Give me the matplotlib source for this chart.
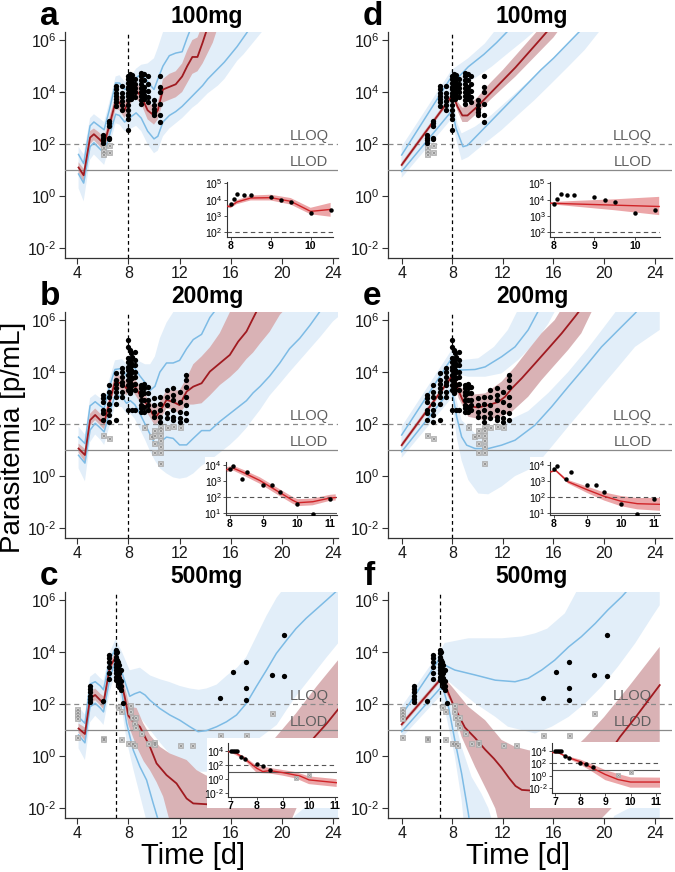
import numpy as np
import matplotlib
matplotlib.use("Agg")
import matplotlib.pyplot as plt
from matplotlib.ticker import NullLocator
import matplotlib.transforms as mtrans

plt.rcParams['font.family'] = ['Liberation Sans', 'DejaVu Sans']
plt.rcParams['mathtext.fontset'] = 'custom'
plt.rcParams['mathtext.rm'] = 'Liberation Sans'
plt.rcParams['mathtext.it'] = 'Liberation Sans:italic'
plt.rcParams['mathtext.bf'] = 'Liberation Sans:bold'

try:
    from matplotlib.mathtext import MathTextParser
    MathTextParser('agg').parse(r'$10^{\text{-}2}$', 100)
    NEG = r'\text{-}'
except Exception:
    NEG = '-'


def pow_label(e):
    s = str(abs(e))
    return r'$10^{%s%s}$' % (NEG if e < 0 else '', s)


# ---------------- data (log10 parasitemia) ----------------
DOSES = ["100mg", "200mg", "500mg"]
LETTERS_LEFT = ["a", "b", "c"]
LETTERS_RIGHT = ["d", "e", "f"]
XTICKS = [4, 8, 12, 16, 20, 24]
YTICK_EXP = [-2, 0, 2, 4, 6]
LLOQ = 100
LLOD = 10

# observations: (time, [log10 values])
OBS_100 = [(6.0, [2.35, 2.25, 2.15, 2.05]), (6.5, [2.9, 2.8, 2.7, 2.25, 2.2]),
           (7.0, [4.25, 4.1, 3.95, 3.85, 3.75, 3.6, 3.45]), (7.5, [4.25, 3.95, 3.8, 3.65, 3.5, 3.3]),
           (8.0, [4.6, 4.5, 4.35, 4.2, 4.1, 3.95, 3.85, 3.7, 3.5, 3.3, 3.1, 2.95, 2.55]),
           (8.1, [4.7, 4.55, 4.4, 4.25, 4.1, 3.9]), (8.2, [4.6, 4.45, 4.3, 4.2, 4.05, 3.9, 3.75]),
           (8.3, [4.65, 4.5, 4.35, 4.2, 4.0, 3.85]), (8.5, [4.5, 4.3, 4.15, 4.0, 3.8]),
           (9.0, [4.75, 4.6, 4.45, 4.3, 4.15, 4.0, 3.85, 3.7, 3.55]),
           (9.25, [4.7, 4.45, 4.2, 4.05, 3.9, 3.75]), (9.5, [4.6, 4.3, 4.05, 3.8, 3.6]),
           (10.0, [3.7, 3.5, 3.35, 3.25, 3.1]), (10.5, [4.6, 4.2, 4.0, 3.55, 3.1, 2.85])]
BLQ_100 = [(6.0, [1.9, 1.75, 1.6]), (6.5, [1.95, 1.7])]

OBS_200 = [(6.0, [3.11, 2.99, 2.86, 2.54, 2.41, 2.15]), (6.5, [3.5, 3.24, 3.05, 2.79, 2.54, 2.35, 2.09]),
           (7.0, [3.95, 3.69, 3.56, 3.37, 3.24, 3.05, 2.79, 2.15]),
           (7.5, [4.14, 4.01, 3.82, 3.63, 3.5, 3.24, 3.05]),
           (8.0, [5.23, 4.97, 4.53, 4.4, 4.21, 4.08, 3.88, 3.69, 3.5, 3.31, 2.54]),
           (8.1, [4.85, 4.46, 4.21, 3.95, 3.69, 3.44, 3.18]), (8.2, [4.72, 4.33, 4.08, 3.82, 3.56, 3.31]),
           (8.3, [4.59, 4.27, 4.01, 3.76, 3.5, 2.54]), (8.5, [4.78, 4.46, 4.27, 4.01, 3.82, 3.56, 3.31, 2.54]),
           (9.0, [3.5, 3.37, 3.24, 3.12, 2.92, 2.73, 2.6, 2.47]), (9.25, [3.56, 3.37, 3.18, 2.92, 2.67, 2.47]),
           (9.5, [3.44, 3.18, 2.92, 2.73, 2.54]), (10.0, [2.99, 2.73, 2.47, 2.28]),
           (10.5, [3.05, 2.79, 2.54, 2.28, 2.09]), (11.0, [3.31, 3.05, 2.73, 2.41, 2.22]),
           (11.5, [3.37, 3.12, 2.92, 2.54, 2.28, 2.15]), (12.0, [3.24, 2.86, 2.47, 2.22, 2.09]),
           (12.5, [3.88, 3.69, 3.44, 3.05, 2.73, 2.41, 2.15])]
BLQ_200 = [(6.0, [1.58]), (6.5, [1.45]), (9.25, [1.9]), (9.75, [1.54]), (10.0, [1.77, 1.58, 1.26, 0.94]),
           (10.5, [1.9, 1.77, 1.58, 1.38, 1.17, 0.94, 0.49]), (11.0, [1.9]), (11.5, [1.93]), (12.0, [1.9])]

OBS_500 = [(5.0, [2.7, 2.57, 2.45, 2.33, 2.2, 2.09]), (6.0, [2.12]), (6.5, [3.88, 3.76, 3.6, 3.44, 3.2, 2.96]),
           (7.0, [4.08, 3.95, 3.82, 3.69, 3.56, 3.44, 3.31, 3.18, 3.05, 2.92]),
           (7.1, [4.0, 3.7, 3.4, 3.2, 3.0]), (7.2, [3.6, 3.35, 3.15, 2.95, 2.8]),
           (7.3, [3.5, 3.2, 3.0, 2.8, 2.65]), (7.4, [3.3, 2.9, 2.7, 2.55]), (7.55, [2.03]),
           (15.2, [2.24]), (16.2, [3.24]), (17.2, [3.63, 2.6, 2.15]), (19.2, [3.12]), (20.2, [4.65, 3.08])]
BLQ_500 = [(4.0, [1.83, 1.7, 1.58, 1.47, 0.72]), (6.0, [0.7, 0.64]), (7.2, [1.9]), (7.4, [1.72, 0.66]),
           (8.0, [0.49]), (8.1, [1.96, 1.72]), (8.25, [1.51, 0.5]), (8.4, [1.28, 0.42]), (8.5, [1.13, 1.5]),
           (9.0, [0.9]), (9.5, [0.5]), (10.0, [0.55, 0.45]), (12.0, [0.42]), (13.0, [0.42]),
           (15.2, [0.8]), (17.2, [0.8]), (19.2, [1.64])]

# ---- panel a (100mg, model 1) ----
A_MED = [(4.1, 1.1), (4.5, 0.8), (5.0, 2.25), (5.3, 2.38), (5.7, 2.2), (6.1, 2.0), (6.5, 2.7), (7.0, 3.65),
         (7.3, 3.6), (7.7, 3.3), (8.2, 3.9), (8.6, 4.05), (9.0, 3.85), (9.5, 3.3), (10.0, 3.1), (10.3, 3.3),
         (10.7, 4.1), (11.2, 4.2), (11.7, 4.3), (12.2, 4.6), (12.6, 5.0), (13.0, 5.35), (13.4, 5.35),
         (13.8, 5.9), (14.2, 6.5)]
A_RLO = [(4.1, 0.9), (4.5, 0.55), (5.0, 2.0), (5.3, 2.15), (5.7, 1.95), (6.1, 1.7), (6.5, 2.4), (7.0, 3.35),
         (7.3, 3.3), (7.7, 3.0), (8.2, 3.6), (8.6, 3.75), (9.0, 3.55), (9.5, 2.95), (10.0, 2.75), (10.3, 2.95),
         (10.7, 3.6), (11.2, 3.7), (11.7, 3.8), (12.2, 4.0), (12.6, 4.35), (13.0, 4.7), (13.4, 4.8),
         (13.8, 5.1), (14.2, 5.5), (14.6, 5.9), (15.0, 6.5)]
A_RHI = [(4.1, 1.3), (4.5, 1.05), (5.0, 2.5), (5.3, 2.6), (5.7, 2.45), (6.1, 2.25), (6.5, 3.0), (7.0, 3.9),
         (7.3, 3.85), (7.7, 3.6), (8.2, 4.2), (8.6, 4.35), (9.0, 4.15), (9.5, 3.6), (10.0, 3.45), (10.3, 3.6),
         (10.7, 4.5), (11.2, 4.7), (11.7, 4.8), (12.2, 5.1), (12.6, 5.6), (13.0, 6.0), (13.4, 6.1), (13.8, 6.6)]
A_UB = [(4.1, 1.6), (4.5, 1.25), (5.0, 2.7), (5.3, 2.85), (5.7, 2.7), (6.1, 2.55), (6.5, 3.3), (7.0, 4.35),
        (7.3, 4.35), (7.7, 4.1), (8.2, 4.2), (8.6, 4.55), (9.0, 4.7), (9.5, 4.4), (10.0, 4.1), (10.3, 4.5),
        (10.7, 5.0), (11.2, 5.4), (11.7, 5.5), (12.2, 5.55), (12.6, 6.1), (13.0, 6.6)]
A_LB = [(4.1, 0.85), (4.5, 0.5), (5.0, 1.9), (5.3, 2.05), (5.7, 1.85), (6.1, 1.65), (6.5, 2.3), (7.0, 3.15),
        (7.3, 3.1), (7.7, 2.85), (8.2, 3.05), (8.6, 3.2), (9.0, 3.0), (9.5, 2.5), (10.0, 2.2), (10.3, 2.3),
        (10.7, 2.85), (11.2, 3.1), (11.7, 3.25), (12.2, 3.45), (12.6, 3.65), (13.0, 3.85), (13.4, 4.05),
        (13.8, 4.25), (14.2, 4.5), (14.6, 4.7), (15.0, 4.9), (15.5, 5.15), (16.0, 5.45), (16.5, 5.75),
        (17.0, 6.1), (17.5, 6.45)]
A_BB_LO = [(4.1, 0.3), (4.5, -0.2), (5.0, 1.4), (5.3, 1.6), (5.7, 1.4), (6.1, 1.2), (6.5, 1.9), (7.0, 2.8),
           (7.3, 2.75), (7.7, 2.5), (8.2, 2.6), (8.6, 2.7), (9.0, 2.5), (9.5, 2.0), (10.0, 1.65), (10.3, 1.75),
           (10.7, 2.3), (11.2, 2.6), (11.7, 2.8), (12.2, 3.0), (12.6, 3.2), (13.0, 3.4), (13.4, 3.55),
           (13.8, 3.75), (14.2, 3.95), (14.6, 4.1), (15.0, 4.25), (15.5, 4.5), (16.0, 4.85), (16.5, 5.2),
           (17.0, 5.45), (17.5, 5.75), (18.0, 6.05), (18.5, 6.35), (19.0, 6.65)]
A_BB_HI = [(4.1, 1.9), (4.5, 1.6), (5.0, 3.0), (5.3, 3.15), (5.7, 3.0), (6.1, 2.85), (6.5, 3.6), (7.0, 4.6),
           (7.3, 4.65), (7.7, 4.4), (8.2, 4.6), (8.6, 4.9), (9.0, 5.05), (9.5, 5.1), (10.0, 5.3), (10.3, 5.7),
           (10.7, 6.3), (11.2, 6.7), (19.5, 7.0)]

# ---- panel b (200mg, model 1) ----
B_MED = [(4.1, 1.06), (4.6, 0.81), (5.0, 2.15), (5.4, 2.35), (5.8, 2.15), (6.1, 2.05), (6.5, 2.8),
         (6.95, 3.63), (7.5, 3.56), (7.85, 3.37), (8.15, 3.69), (8.5, 3.45), (8.9, 3.12), (9.3, 2.85),
         (9.7, 2.55), (10.07, 2.22), (10.46, 2.48), (10.98, 2.93), (11.5, 2.85), (12.0, 2.73), (12.55, 3.25),
         (13.07, 3.44), (13.72, 3.57), (14.37, 4.02), (15.15, 4.34), (15.93, 4.66), (16.58, 5.17),
         (17.23, 5.56), (17.75, 6.07), (18.14, 6.45)]
B_RLO = [(4.1, 0.9), (4.6, 0.55), (5.0, 1.95), (5.4, 2.15), (5.8, 1.95), (6.1, 1.8), (6.5, 2.55), (6.95, 3.4),
         (7.5, 3.3), (7.85, 3.1), (8.15, 3.4), (8.5, 3.15), (8.9, 2.85), (9.3, 2.55), (9.7, 2.25),
         (10.07, 1.95), (10.46, 2.15), (10.98, 2.6), (11.5, 2.55), (12.0, 2.4), (12.55, 2.75), (13.07, 2.75),
         (13.72, 2.8), (14.37, 3.1), (15.15, 3.5), (15.93, 3.8), (16.58, 4.1), (17.23, 4.5), (17.75, 4.75),
         (18.3, 5.1), (19.05, 5.55), (19.84, 6.2), (20.6, 6.6)]
B_RHI = [(4.1, 1.25), (4.6, 1.05), (5.0, 2.4), (5.4, 2.6), (5.8, 2.4), (6.1, 2.3), (6.5, 3.05), (6.95, 3.9),
         (7.5, 3.85), (7.85, 3.65), (8.15, 3.95), (8.5, 3.75), (8.9, 3.45), (9.3, 3.15), (9.7, 2.85),
         (10.07, 2.6), (10.46, 2.85), (10.98, 3.3), (11.5, 3.3), (12.0, 3.3), (12.55, 3.76), (13.07, 4.3),
         (13.72, 4.6), (14.37, 4.95), (15.15, 5.5), (15.93, 6.3), (16.58, 6.9)]
B_UB = [(4.1, 1.5), (4.6, 1.25), (5.0, 2.7), (5.4, 2.86), (5.8, 2.7), (6.1, 2.6), (6.5, 3.4), (6.95, 4.1),
        (7.5, 4.14), (7.85, 3.85), (8.15, 4.3), (8.5, 4.15), (8.9, 3.85), (9.3, 3.6), (9.7, 3.3),
        (10.07, 3.45), (10.46, 4.0), (10.98, 4.35), (11.5, 4.35), (12.0, 4.45), (12.55, 4.9), (13.07, 5.25),
        (13.72, 5.45), (14.37, 6.1), (15.15, 6.6)]
B_UB_LO = [(4.1, 1.2), (4.6, 0.9), (5.0, 2.4), (5.4, 2.55), (5.8, 2.4), (6.1, 2.3), (6.5, 3.0), (6.95, 3.75),
           (7.5, 3.8), (7.85, 3.5), (8.15, 3.9), (8.5, 3.75), (8.9, 3.4), (9.3, 3.1), (9.7, 2.8), (10.07, 2.5),
           (10.46, 2.7), (10.98, 3.0), (11.5, 3.1), (12.0, 3.1), (12.55, 3.5), (13.07, 4.2), (13.72, 4.5),
           (14.37, 4.8), (15.15, 5.3), (15.93, 6.0), (16.58, 6.6)]
B_UB_HI = [(4.1, 1.9), (4.6, 1.6), (5.0, 3.0), (5.4, 3.15), (5.8, 3.0), (6.1, 2.9), (6.5, 3.7), (6.95, 4.45),
           (7.5, 4.5), (7.85, 4.3), (8.15, 4.7), (8.5, 4.6), (8.9, 4.4), (9.3, 4.3), (9.7, 4.3), (10.07, 4.6),
           (10.46, 5.3), (10.98, 5.9), (11.5, 6.3), (12.0, 6.6)]
B_LB = [(4.1, 0.8), (4.6, 0.5), (5.0, 1.77), (5.4, 2.03), (5.8, 1.85), (6.1, 1.7), (6.5, 2.4), (6.95, 3.1),
        (7.5, 3.05), (7.85, 2.8), (8.15, 2.9), (8.5, 2.75), (8.9, 2.4), (9.3, 2.0), (9.7, 1.6), (10.07, 1.25),
        (10.46, 1.3), (10.98, 1.5), (11.5, 1.45), (12.0, 1.2), (12.55, 1.2), (13.07, 1.45), (13.72, 1.75),
        (14.37, 1.75), (15.15, 2.1), (15.93, 2.4), (16.58, 2.65), (17.23, 2.9), (17.75, 3.2), (18.3, 3.45),
        (19.05, 3.85), (19.84, 4.35), (20.6, 4.9), (21.4, 5.3), (22.2, 5.8), (23.0, 6.35), (23.6, 6.7)]
B_LB_LO = [(4.1, 0.3), (4.6, -0.2), (5.0, 1.3), (5.4, 1.6), (5.8, 1.4), (6.1, 1.2), (6.5, 1.9), (6.95, 2.7),
           (7.5, 2.65), (7.85, 2.4), (8.15, 2.4), (8.5, 2.2), (8.9, 1.8), (9.3, 1.4), (9.7, 0.95), (10.07, 0.6),
           (10.46, 0.3), (10.98, 0.1), (11.5, -0.05), (12.0, -0.1), (12.55, -0.05), (13.07, 0.1), (13.72, 0.4),
           (14.37, 0.6), (15.15, 0.9), (15.93, 1.2), (16.58, 1.5), (17.23, 1.85), (17.75, 2.2), (18.3, 2.55),
           (19.05, 3.1), (19.84, 3.55), (20.6, 4.0), (21.4, 4.45), (22.2, 4.9), (23.0, 5.35), (24.0, 5.95),
           (24.6, 6.2)]
B_LB_HI = [(4.1, 1.4), (4.6, 1.1), (5.0, 2.3), (5.4, 2.5), (5.8, 2.3), (6.1, 2.2), (6.5, 2.9), (6.95, 3.6),
           (7.5, 3.6), (7.85, 3.3), (8.15, 3.5), (8.5, 3.3), (8.9, 3.0), (9.3, 2.6), (9.7, 2.3), (10.07, 2.0),
           (10.46, 2.2), (10.98, 2.5), (11.5, 2.6), (12.0, 2.6), (12.55, 2.8), (13.07, 3.0), (13.72, 3.2),
           (14.37, 3.4), (15.15, 3.6), (15.93, 4.0), (16.58, 4.4), (17.23, 4.9), (17.75, 5.3), (18.3, 5.8),
           (19.05, 6.4), (19.84, 7.0), (24.6, 7.0)]

# ---- panel c (500mg, model 1) ----
C_MED = [(4.1, 1.06), (4.6, 0.85), (5.0, 2.22), (5.4, 2.35), (5.8, 2.15), (6.05, 2.03), (6.55, 3.44),
         (7.0, 3.8), (7.3, 3.3), (7.5, 2.7), (7.7, 2.3), (8.0, 1.55), (8.4, 1.3), (8.9, 1.13), (9.16, 0.87),
         (9.68, 0.36), (10.2, -0.28), (10.98, -0.73), (11.76, -1.05), (12.55, -1.63), (13.07, -1.82),
         (14.1, -1.85), (14.9, -1.95), (16.0, -1.9), (17.0, -1.7), (18.0, -1.35), (19.0, -0.9), (20.0, -0.4),
         (21.0, 0.05), (22.0, 0.4), (22.57, 0.74), (23.5, 1.25), (24.4, 1.8)]
C_RLO = [(4.1, 0.9), (4.6, 0.6), (5.0, 2.0), (5.4, 2.15), (5.8, 1.95), (6.05, 1.8), (6.55, 3.2), (7.0, 3.6),
         (7.3, 3.0), (7.6, 2.2), (8.0, 1.2), (8.64, 0.36), (9.2, -0.2), (9.68, -0.54), (10.2, -1.0),
         (10.72, -1.56), (11.2, -2.45), (11.6, -3.2), (20.0, -3.2), (20.8, -2.4), (21.5, -1.6), (22.5, -0.8),
         (24.5, 0.2)]
C_RHI = [(4.1, 1.25), (4.6, 1.1), (5.0, 2.45), (5.4, 2.6), (5.8, 2.4), (6.05, 2.3), (6.55, 3.65), (7.0, 4.0),
         (7.3, 3.6), (7.6, 2.9), (8.1, 1.9), (8.64, 1.85), (9.16, 1.26), (9.7, 0.8), (10.46, 0.36),
         (11.24, 0.1), (12.55, -0.15), (13.33, -0.54), (14.1, -0.75), (15.0, -0.7), (16.5, -0.5),
         (18.0, 0.0), (19.3, 0.6), (21.1, 1.64), (22.7, 2.67), (24.5, 3.75)]
C_UB = [(4.1, 1.51), (4.6, 1.26), (5.0, 2.77), (5.4, 2.86), (5.8, 2.7), (6.05, 2.55), (6.55, 3.7), (7.0, 4.15),
        (7.3, 3.5), (7.6, 3.05), (8.1, 2.3), (8.5, 2.4), (8.9, 2.47), (9.3, 2.35), (9.68, 2.15),
        (10.46, 1.83), (11.24, 1.58), (12.02, 1.38), (12.8, 1.13), (13.45, 0.94), (14.1, 0.98), (14.9, 1.13),
        (15.67, 1.32), (16.45, 1.58), (17.23, 2.03), (18.0, 2.67), (18.8, 3.31), (19.57, 3.95),
        (20.36, 4.45), (21.1, 4.9), (21.9, 5.3), (22.7, 5.65), (23.5, 6.0), (24.4, 6.4)]
C_UB_LO = [(4.1, 1.2), (4.6, 0.9), (5.0, 2.45), (5.4, 2.55), (5.8, 2.4), (6.05, 2.25), (6.55, 3.3), (7.0, 3.6),
           (7.5, 2.5), (8.1, 1.6), (8.9, 1.5), (9.7, 1.0), (10.5, 0.5), (11.2, 0.1), (12.0, -0.2),
           (12.8, -0.45), (13.5, -0.6), (14.1, -0.6), (14.9, -0.5), (15.7, -0.3), (16.5, 0.0), (17.2, 0.3),
           (18.0, 0.6), (18.8, 0.9), (19.6, 1.2), (20.4, 1.8), (21.1, 2.3), (21.9, 2.8), (22.7, 3.3),
           (23.5, 3.8), (24.5, 4.4)]
C_UB_HI = [(4.1, 1.9), (4.6, 1.6), (5.0, 3.05), (5.4, 3.2), (5.8, 3.0), (6.05, 2.9), (6.55, 4.0), (7.0, 4.5),
           (7.5, 4.0), (8.1, 3.3), (8.9, 3.4), (9.7, 3.1), (10.5, 2.95), (11.2, 2.85), (12.0, 2.7),
           (12.8, 2.6), (13.5, 2.55), (14.1, 2.6), (14.9, 2.75), (15.7, 3.1), (16.5, 3.4), (17.2, 3.8),
           (18.0, 4.6), (18.8, 5.4), (19.6, 6.1), (20.4, 6.6), (24.5, 7.0)]
C_LB = [(4.1, 0.81), (4.6, 0.51), (5.0, 1.9), (5.4, 2.03), (5.8, 1.85), (6.05, 1.7), (6.55, 3.0), (7.0, 3.7),
        (7.34, 2.92), (7.86, 1.26), (8.38, 0.23), (8.9, -0.41), (9.42, -0.92), (9.94, -1.82), (10.33, -2.46),
        (10.6, -3.0)]
C_LB_LO = [(4.1, 0.3), (4.6, -0.15), (5.0, 1.3), (5.4, 1.55), (5.8, 1.35), (6.05, 1.2), (6.55, 2.5), (7.0, 3.2),
           (7.34, 2.3), (7.86, 0.6), (8.38, -0.5), (8.9, -1.5), (9.42, -2.5), (9.8, -3.0)]
C_LB_HI = [(4.1, 1.4), (4.6, 1.1), (5.0, 2.4), (5.4, 2.55), (5.8, 2.35), (6.05, 2.2), (6.55, 3.4), (7.0, 4.0),
           (7.34, 3.5), (7.86, 2.2), (8.38, 1.3), (8.9, 0.6), (9.42, 0.0), (9.94, -0.6), (10.33, -1.0),
           (10.98, -1.7), (11.76, -2.45), (12.2, -3.0)]
C_LB2_LO = [(20.5, -3.0), (24.5, -3.0)]
C_LB2_HI = [(20.5, -3.0), (21.0, -2.3), (22.0, -1.9), (24.5, -1.4)]

# ---- panel d (100mg, model 2) ----
D_MED = [(4.0, 1.2), (8.05, 3.9), (8.4, 3.45), (8.8, 3.1), (9.2, 3.1), (10.0, 3.45), (11.0, 3.95), (12.0, 4.45),
         (13.0, 4.95), (14.0, 5.5), (15.0, 6.05), (15.8, 6.5)]
D_RLO = [(4.0, 1.1), (8.05, 3.8), (8.4, 3.3), (8.8, 2.85), (9.2, 2.85), (10.0, 3.2), (11.0, 3.7), (12.0, 4.15),
         (13.0, 4.6), (14.0, 5.1), (15.0, 5.6), (16.0, 6.1), (16.6, 6.5)]
D_RHI = [(4.0, 1.3), (8.05, 4.0), (8.4, 3.65), (8.8, 3.4), (9.2, 3.45), (10.0, 3.8), (11.0, 4.35), (12.0, 4.85),
         (13.0, 5.4), (14.0, 5.95), (15.0, 6.5)]
D_UB = [(4.0, 1.58), (7.95, 4.6), (8.25, 4.45), (9.26, 4.97), (10.5, 5.45), (11.5, 5.9), (12.5, 6.4)]
D_UB_LO = [(4.0, 1.0), (7.95, 3.6), (8.74, 4.25), (9.79, 4.53), (11.1, 4.97), (12.4, 5.49), (13.7, 6.0),
           (14.9, 6.5)]
D_UB_HI = [(4.0, 1.9), (7.95, 4.85), (9.26, 5.3), (10.58, 5.87), (11.6, 6.5)]
D_LB = [(4.0, 0.95), (8.0, 3.3), (8.3, 2.6), (8.85, 1.9), (9.2, 1.95), (10.0, 2.35), (11.0, 2.85), (12.0, 3.35),
        (13.0, 3.85), (14.0, 4.35), (15.0, 4.85), (16.0, 5.3), (17.0, 5.8), (18.0, 6.3), (18.5, 6.55)]
D_LB_LO = [(4.0, 0.7), (8.0, 3.0), (8.3, 2.2), (8.74, 1.38), (9.26, 1.5), (10.58, 2.03), (11.9, 2.54),
           (13.2, 3.12), (14.5, 3.69), (15.84, 4.33), (17.16, 4.97), (18.47, 5.62), (19.9, 6.5)]
D_LB_HI = [(4.0, 1.5), (8.0, 4.0), (8.4, 2.8), (8.74, 2.41), (9.79, 2.67), (11.1, 3.12), (12.4, 3.69),
           (13.7, 4.27), (15.05, 4.85), (16.37, 5.49), (17.7, 6.13), (18.5, 6.5)]

# ---- panel e (200mg, model 2) ----
E_MED = [(4.0, 1.19), (7.95, 3.82), (8.08, 3.88), (8.48, 3.31), (8.87, 2.86), (9.27, 2.69), (10.06, 2.64),
         (10.85, 2.73), (11.64, 2.85), (12.17, 3.05), (12.7, 3.37), (13.49, 3.76), (14.54, 4.33),
         (15.6, 4.91), (16.65, 5.49), (17.7, 6.13), (18.2, 6.45)]
E_RLO = [(4.0, 1.09), (7.95, 3.72), (8.1, 3.75), (8.5, 3.0), (9.27, 2.28), (10.6, 2.15), (11.9, 2.3),
         (12.7, 2.47), (14.0, 3.05), (15.05, 3.69), (16.1, 4.27), (17.16, 4.85), (18.2, 5.49), (19.1, 6.4)]
E_RHI = [(4.0, 1.29), (7.95, 3.92), (8.1, 3.98), (8.5, 3.5), (9.27, 3.12), (10.6, 3.18), (11.9, 3.63),
         (12.96, 4.2), (14.0, 4.85), (15.05, 5.49), (16.1, 6.0), (16.6, 6.4)]
E_UB = [(4.0, 1.58), (7.95, 4.53), (8.35, 4.1), (8.74, 4.08), (9.8, 4.1), (10.6, 4.2), (11.9, 4.59),
        (12.96, 4.97), (14.0, 5.62), (14.8, 6.35)]
E_UB_LO = [(4.0, 1.0), (7.95, 3.7), (8.2, 3.95), (9.27, 3.82), (10.6, 3.82), (11.9, 3.95), (13.2, 4.46),
           (14.5, 5.1), (15.6, 5.87), (16.3, 6.5)]
E_UB_HI = [(4.0, 1.9), (7.95, 4.85), (8.74, 4.46), (10.06, 4.53), (11.3, 4.97), (12.4, 5.62), (13.3, 6.5)]
E_LB = [(4.0, 0.94), (7.95, 3.37), (8.35, 2.28), (8.74, 1.51), (9.14, 1.19), (9.8, 1.06), (10.85, 1.06),
        (11.9, 1.19), (12.96, 1.38), (14.54, 1.96), (15.86, 2.67), (17.17, 3.44), (18.5, 4.2), (19.8, 4.97),
        (21.13, 5.62), (22.45, 6.26), (22.8, 6.45)]
E_LB_LO = [(4.0, 0.7), (7.95, 3.0), (8.35, 1.5), (8.74, 0.6), (9.27, -0.15), (10.06, -0.67), (10.85, -0.7),
           (11.9, -0.4), (12.96, 0.0), (14.54, 0.36), (15.86, 1.13), (17.16, 1.9), (18.5, 2.67), (19.8, 3.44),
           (21.13, 4.2), (22.45, 4.97), (24.4, 5.62)]
E_LB_HI = [(4.0, 1.5), (7.95, 3.9), (8.35, 2.9), (8.74, 2.15), (9.8, 1.64), (11.4, 1.77), (12.7, 2.2),
           (14.0, 2.5), (15.6, 3.2), (17.16, 4.0), (18.7, 4.9), (19.8, 5.6), (21.2, 6.5), (24.4, 7.0)]

# ---- panel f (500mg, model 2) ----
F_MED = [(4.0, 1.22), (7.1, 2.97), (7.5, 2.65), (8.1, 1.95), (9.0, 1.1), (9.8, 0.7), (10.6, 0.25),
         (11.3, -0.1), (11.9, -0.45), (12.5, -0.85), (13.0, -1.15), (13.5, -1.3), (14.1, -1.32), (15.0, -1.4),
         (17.0, -1.2), (19.0, -0.6), (20.5, 0.2), (21.26, 0.74), (22.5, 1.5), (24.4, 2.73)]
F_RLO = [(4.0, 1.12), (7.1, 2.87), (7.5, 2.45), (7.95, 2.0), (8.74, 0.74), (9.8, -0.41), (10.85, -1.44),
         (11.4, -2.01), (11.9, -3.0), (19.0, -3.0), (19.8, -2.4), (21.0, -1.8), (24.4, -0.3)]
F_RHI = [(4.0, 1.32), (7.1, 3.07), (7.4, 3.0), (8.2, 2.54), (9.27, 1.9), (10.6, 1.38), (11.9, 0.62),
         (12.96, 0.36), (14.0, 0.23), (15.5, 0.1), (17.0, 0.0), (18.5, 0.7), (20.0, 1.5), (22.0, 2.7),
         (24.4, 4.2)]
F_UB = [(4.0, 1.58), (7.0, 3.75), (7.4, 3.5), (8.2, 3.31), (9.8, 3.12), (11.4, 2.92), (12.96, 2.86),
        (14.0, 2.99), (15.07, 3.31), (16.1, 3.69), (17.2, 4.2), (18.2, 4.59), (19.3, 5.1), (20.3, 5.62),
        (21.4, 6.13), (21.9, 6.4)]
F_UB_LO = [(4.0, 1.0), (7.0, 3.2), (7.4, 3.0), (8.2, 2.67), (9.8, 2.03), (11.4, 1.51), (12.4, 1.13),
           (13.5, 1.0), (14.54, 0.87), (15.86, 1.13), (17.2, 1.51), (18.5, 2.03), (19.8, 2.67), (21.1, 3.44),
           (22.45, 4.33), (23.8, 5.36), (24.4, 5.8)]
F_UB_HI = [(4.0, 1.9), (7.0, 4.0), (7.4, 4.35), (9.27, 4.53), (11.9, 4.53), (13.5, 4.6), (14.54, 4.72),
           (15.5, 4.9), (16.9, 5.49), (17.9, 6.4), (24.4, 7.0)]
F_LB = [(4.0, 0.94), (7.03, 2.6), (7.3, 2.55), (7.7, 1.9), (8.2, 0.62), (8.74, -0.67), (9.27, -2.2),
        (9.5, -3.0)]
F_LB_LO = [(4.0, 0.7), (7.03, 2.3), (7.5, 1.6), (8.2, 0.0), (8.74, -1.7), (9.0, -3.0)]
F_LB_HI = [(4.0, 1.5), (7.03, 3.1), (7.4, 3.0), (8.2, 1.38), (8.74, 0.36), (9.53, -0.8), (10.3, -1.44),
           (10.85, -2.0), (11.1, -2.4), (11.4, -3.0)]
F_LB2_LO = [(20.3, -3.0), (24.4, -3.0)]
F_LB2_HI = [(20.3, -3.0), (20.8, -2.3), (22.0, -2.0), (24.4, -1.5)]

# ---- insets ----
INS_100 = [(8.0, 3.75), (8.08, 4.05), (8.17, 4.33), (8.33, 4.3), (8.5, 4.3), (9.0, 4.15), (9.25, 3.95),
           (9.5, 3.85), (10.0, 3.2), (10.5, 3.35)]
INS_200 = [(8.0, 3.76), (8.08, 3.96), (8.35, 3.15), (8.5, 3.58), (9.0, 2.78), (9.25, 2.75), (9.5, 2.35),
           (10.0, 1.6), (10.5, 0.95), (11.0, 1.9)]
INS_500 = [(7.0, 3.95), (7.08, 3.95), (7.17, 3.95), (7.25, 3.95), (7.4, 3.1), (7.55, 2.85), (8.0, 2.1),
           (8.25, 1.9), (8.5, 1.35)]
INS_500_BLQ = [(9.5, 0.1), (10.0, 0.6)]

IA_MED = [(7.9, 3.6), (8.0, 3.58), (8.15, 3.85), (8.5, 4.1), (9.0, 4.12), (9.5, 3.9), (10.0, 3.28), (10.5, 3.4)]
IA_LO = [(7.9, 3.5), (8.0, 3.48), (8.15, 3.72), (8.5, 3.95), (9.0, 3.95), (9.5, 3.7), (10.0, 3.1), (10.5, 2.95)]
IA_HI = [(7.9, 3.7), (8.0, 3.68), (8.15, 3.97), (8.5, 4.25), (9.0, 4.3), (9.5, 4.1), (10.0, 3.5), (10.5, 3.8)]
ID_MED = [(7.9, 3.78), (10.6, 3.58)]
ID_LO = [(7.9, 3.72), (8.5, 3.58), (9.5, 3.35), (10.6, 3.05)]
ID_HI = [(7.9, 3.84), (8.5, 3.92), (9.5, 4.02), (10.6, 4.17)]
IB_MED = [(7.88, 3.7), (8.1, 3.8), (8.4, 3.53), (8.9, 3.03), (9.39, 2.42), (9.88, 1.81), (10.03, 1.66),
          (10.48, 1.72), (11.0, 1.95), (11.17, 1.98)]
IB_LO = [(7.88, 3.55), (8.1, 3.65), (8.4, 3.35), (8.9, 2.83), (9.39, 2.2), (9.88, 1.6), (10.03, 1.45),
         (10.48, 1.5), (11.0, 1.78), (11.17, 1.8)]
IB_HI = [(7.88, 3.85), (8.1, 3.95), (8.4, 3.7), (8.9, 3.23), (9.39, 2.62), (9.88, 2.02), (10.03, 1.88),
         (10.48, 1.92), (11.0, 2.15), (11.17, 2.18)]
IE_MED = [(7.88, 3.56), (8.05, 3.66), (8.42, 2.96), (9.0, 2.46), (9.5, 2.06), (10.0, 1.76), (10.5, 1.6),
          (11.18, 1.56)]
IE_LO = [(7.88, 3.5), (8.05, 3.6), (8.42, 2.85), (9.0, 2.26), (9.5, 1.8), (10.0, 1.45), (10.5, 1.25),
         (11.18, 1.16)]
IE_HI = [(7.88, 3.62), (8.05, 3.72), (8.42, 3.07), (9.0, 2.66), (9.5, 2.3), (10.0, 2.08), (10.5, 1.95),
         (11.18, 1.96)]
IC_MED = [(6.91, 3.9), (7.0, 3.9), (7.23, 3.67), (7.55, 2.87), (8.0, 1.55), (8.23, 1.08), (8.5, 1.22),
          (9.0, 0.93), (9.65, 0.46), (10.0, -0.1), (11.06, -0.5)]
IC_LO = [(6.91, 3.8), (7.0, 3.8), (7.5, 2.8), (8.0, 0.9), (8.5, 0.8), (9.0, 0.5), (9.5, 0.1), (10.0, -0.7),
         (11.06, -1.1)]
IC_HI = [(6.91, 4.0), (7.0, 4.0), (7.5, 3.3), (8.0, 1.9), (8.5, 1.6), (9.0, 1.3), (9.5, 1.0), (10.0, 0.4),
         (11.06, 0.0)]
IF_MED = [(6.87, 3.7), (7.13, 3.7), (7.5, 2.95), (8.0, 2.25), (8.5, 1.2), (9.0, 0.2), (9.5, -0.6),
          (10.0, -1.0), (11.17, -1.0)]
IF_LO = [(6.87, 3.6), (7.13, 3.6), (7.5, 2.8), (8.0, 1.8), (8.5, 0.6), (9.0, -0.7), (9.5, -1.3),
         (10.0, -1.9), (11.17, -1.9)]
IF_HI = [(6.87, 3.8), (7.13, 3.8), (7.5, 3.1), (8.0, 2.6), (8.5, 1.8), (9.0, 0.9), (9.5, 0.3),
         (10.0, -0.25), (11.17, -0.3)]

# ---------------- style ----------------
BLUE_BAND = '#e2eef9'
BLUE_LINE = '#7dbbe5'
RED_BAND = '#d9b2b5'
RED_LINE = '#a01a20'
INS_RED_BAND = '#eca6a8'
INS_RED_LINE = '#d02428'
REF_GRAY = '#8a8a8a'
AX_COL = '#333333'

W, H = 675, 872
fig = plt.figure(figsize=(W / 100, H / 100), dpi=100)


def px_axes(l, t, r, b):
    return fig.add_axes([l / W, 1 - b / H, (r - l) / W, (b - t) / H])


def curve(pairs):
    t = np.array([p[0] for p in pairs], float)
    v = 10.0 ** np.array([p[1] for p in pairs], float)
    return t, v


def fill_band(ax, lo, hi, color, z):
    t1, v1 = curve(lo)
    t2, v2 = curve(hi)
    ax.fill(np.r_[t1, t2[::-1]], np.r_[v1, v2[::-1]], color=color, lw=0, zorder=z)


def expand(groups):
    ts, vs = [], []
    for t, ls in groups:
        for l in ls:
            ts.append(t)
            vs.append(10.0 ** l)
    return ts, vs


def draw_blq(ax, ts, vs, ms, z):
    ax.plot(ts, vs, ls='none', marker='s', ms=ms, mfc='#d4d4d4', mec='#a6a6a6', mew=0.5, zorder=z)
    ax.plot(ts, vs, ls='none', marker='x', ms=ms * 0.6, mec='#8f8f8f', mew=0.5, zorder=z + 0.1)


ROWS = [(32, 258), (312, 538), (592, 818)]
COLS = [(65, 338, (3.04, 24.39), 0.9645, 40, 207), (388, 672, (2.92, 25.37), 0.9285, 363, 532)]
BASE_Y = [25, 305, 585]


def main_panel(row, col, bands, rlo, rhi, blines, med, obs, blq, vx, letter, title):
    top, bot = ROWS[row]
    l, r, xl, tx, lx, ttx = COLS[col]
    ax = px_axes(l, top, r, bot)
    ax.set_yscale('log')
    for lo, hi in bands:
        fill_band(ax, lo, hi, BLUE_BAND, 1)
    fill_band(ax, rlo, rhi, RED_BAND, 2)
    ax.axhline(LLOQ, color=REF_GRAY, lw=0.9, ls=(0, (4, 3)), zorder=3)
    ax.axhline(LLOD, color=REF_GRAY, lw=0.9, zorder=3)
    trans = mtrans.blended_transform_factory(ax.transAxes, ax.transData)
    ax.text(tx, 10 ** 2.15, 'LLOQ', transform=trans, ha='right', va='baseline', fontsize=10.5,
            color='#5f5f5f', zorder=3.5)
    ax.text(tx, 10 ** 1.15, 'LLOD', transform=trans, ha='right', va='baseline', fontsize=10.5,
            color='#5f5f5f', zorder=3.5)
    for bl in blines:
        t, v = curve(bl)
        ax.plot(t, v, color=BLUE_LINE, lw=1.1, zorder=4)
    t, v = curve(med)
    ax.plot(t, v, color=RED_LINE, lw=1.3, zorder=5)
    ax.axvline(vx, color='black', lw=0.9, ls=(0, (3, 2.5)), zorder=6)
    ts, vs = expand(blq)
    draw_blq(ax, ts, vs, 3.6, 7)
    ts, vs = expand(obs)
    ax.plot(ts, vs, ls='none', marker='o', ms=3.8, mfc='black', mec='black', mew=0, zorder=8)

    ax.set_xlim(*xl)
    ax.set_ylim(10 ** -2.38, 10 ** 6.31)
    ax.set_xticks(XTICKS)
    ax.set_xticklabels([str(x) for x in XTICKS])
    ax.set_yticks([10.0 ** e for e in YTICK_EXP])
    ax.set_yticklabels([pow_label(e) for e in YTICK_EXP])
    ax.yaxis.set_minor_locator(NullLocator())
    ax.xaxis.set_minor_locator(NullLocator())
    for s in ['top', 'right']:
        ax.spines[s].set_visible(False)
    for s in ['left', 'bottom']:
        ax.spines[s].set_color(AX_COL)
        ax.spines[s].set_linewidth(0.9)
    ax.tick_params(axis='both', which='major', labelsize=11.5, length=4, width=0.8, color=AX_COL,
                   labelcolor='#1a1a1a', pad=2)
    ax.set_facecolor('none')
    fig.text(lx / W, 1 - BASE_Y[row] / H, letter, fontsize=24, fontweight='bold', ha='left', va='baseline')
    fig.text(ttx / W, 1 - (BASE_Y[row] - 2) / H, title, fontsize=16.5, fontweight='bold', ha='center',
             va='baseline')
    return ax


def inset(box, rect, xlim, ylog, yexp, xt, med, lo, hi, pts, blq, llod):
    bx = px_axes(*box)
    bx.set_facecolor('white')
    bx.set_xticks([])
    bx.set_yticks([])
    for s in bx.spines.values():
        s.set_visible(False)
    ax = px_axes(*rect)
    ax.set_facecolor('none')
    ax.set_yscale('log')
    fill_band(ax, lo, hi, INS_RED_BAND, 1)
    ax.axhline(LLOQ, color='#555555', lw=0.8, ls=(0, (4, 3)), zorder=2)
    if llod:
        ax.axhline(LLOD, color='#555555', lw=0.8, zorder=2)
    t, v = curve(med)
    ax.plot(t, v, color=INS_RED_LINE, lw=1.0, zorder=3)
    if blq:
        t, v = curve(blq)
        draw_blq(ax, t, v, 3.0, 4)
    t, v = curve(pts)
    ax.plot(t, v, ls='none', marker='o', ms=3.2, mfc='black', mec='black', mew=0, zorder=5)
    ax.set_xlim(*xlim)
    ax.set_ylim(10 ** ylog[0], 10 ** ylog[1])
    ax.set_yticks([10.0 ** e for e in yexp])
    ax.set_yticklabels([pow_label(e) for e in yexp])
    ax.set_xticks(xt)
    ax.set_xticklabels([str(x) for x in xt], fontweight='bold')
    ax.yaxis.set_minor_locator(NullLocator())
    for s in ['top', 'right']:
        ax.spines[s].set_visible(False)
    for s in ['left', 'bottom']:
        ax.spines[s].set_color(AX_COL)
        ax.spines[s].set_linewidth(0.8)
    ax.tick_params(axis='both', labelsize=7.5, length=2, width=0.6, color=AX_COL, pad=1)
    return ax


# ---------------- panels ----------------
main_panel(0, 0, [(A_BB_LO, A_BB_HI)], A_RLO, A_RHI, [A_UB, A_LB], A_MED, OBS_100, BLQ_100, 8,
           LETTERS_LEFT[0], DOSES[0])
main_panel(1, 0, [(B_UB_LO, B_UB_HI), (B_LB_LO, B_LB_HI)], B_RLO, B_RHI, [B_UB, B_LB], B_MED, OBS_200,
           BLQ_200, 8, LETTERS_LEFT[1], DOSES[1])
main_panel(2, 0, [(C_UB_LO, C_UB_HI), (C_LB_LO, C_LB_HI), (C_LB2_LO, C_LB2_HI)], C_RLO, C_RHI,
           [C_UB, C_LB], C_MED, OBS_500, BLQ_500, 7, LETTERS_LEFT[2], DOSES[2])
main_panel(0, 1, [(D_UB_LO, D_UB_HI), (D_LB_LO, D_LB_HI)], D_RLO, D_RHI, [D_UB, D_LB], D_MED, OBS_100,
           BLQ_100, 8, LETTERS_RIGHT[0], DOSES[0])
main_panel(1, 1, [(E_UB_LO, E_UB_HI), (E_LB_LO, E_LB_HI)], E_RLO, E_RHI, [E_UB, E_LB], E_MED, OBS_200,
           BLQ_200, 8, LETTERS_RIGHT[1], DOSES[1])
main_panel(2, 1, [(F_UB_LO, F_UB_HI), (F_LB_LO, F_LB_HI), (F_LB2_LO, F_LB2_HI)], F_RLO, F_RHI,
           [F_UB, F_LB], F_MED, OBS_500, BLQ_500, 7, LETTERS_RIGHT[2], DOSES[2])

inset((207, 178, 337, 247), (226.7, 181.7, 333, 237.3), (7.9, 10.56), (1.69, 5.1), [2, 3, 4, 5], [8, 9, 10],
      IA_MED, IA_LO, IA_HI, INS_100, None, False)
inset((530, 178, 664, 247), (550, 181.7, 660, 237.3), (7.9, 10.62), (1.69, 5.1), [2, 3, 4, 5], [8, 9, 10],
      ID_MED, ID_LO, ID_HI, INS_100, None, False)
inset((205, 457, 338, 524), (226, 461.7, 336.7, 515), (7.88, 11.2), (0.9, 4.2), [1, 2, 3, 4], [8, 9, 10, 11],
      IB_MED, IB_LO, IB_HI, INS_200, None, True)
inset((530, 457, 664, 524), (550, 461.7, 660, 515), (7.88, 11.18), (0.9, 4.2), [1, 2, 3, 4], [8, 9, 10, 11],
      IE_MED, IE_LO, IE_HI, INS_200, None, True)
inset((206.7, 738.3, 338, 808.3), (228.3, 742.7, 336.7, 797.3), (6.91, 11.06), (-2.57, 5.18), [-2, 0, 2, 4],
      [7, 8, 9, 10, 11], IC_MED, IC_LO, IC_HI, INS_500, INS_500_BLQ, True)
inset((530, 741.7, 672, 808.3), (551.7, 742.7, 660, 793.3), (6.87, 11.17), (-2.8, 5.28), [-2, 0, 2, 4],
      [7, 8, 9, 10, 11], IF_MED, IF_LO, IF_HI, INS_500, INS_500_BLQ, True)

fig.text(0.5 / W, 1 - 437 / H, 'Parasitemia [p/mL]', rotation=90, fontsize=20, ha='left', va='center')
fig.text(193 / W, 1 - 864 / H, 'Time [d]', fontsize=21, ha='center', va='baseline')
fig.text(518 / W, 1 - 864 / H, 'Time [d]', fontsize=21, ha='center', va='baseline')

fig.savefig('out.png', dpi=100)
